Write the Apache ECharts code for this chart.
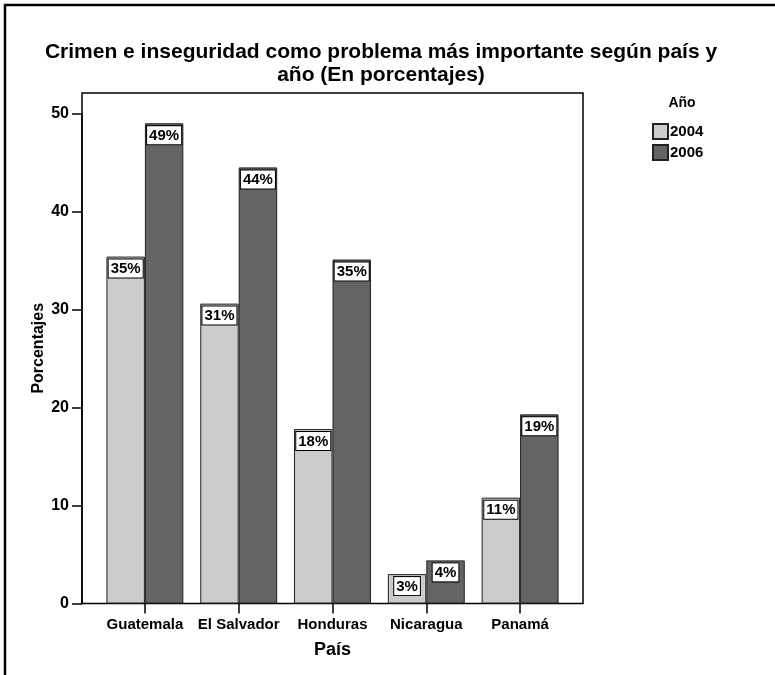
<!DOCTYPE html>
<html>
<head>
<meta charset="utf-8">
<script src="https://cdn.jsdelivr.net/npm/echarts@6/dist/echarts.min.js"></script>
<style>html,body{margin:0;padding:0;background:#fff;}#c{width:775px;height:675px;}</style>
</head>
<body>
<div id="c"></div>
<script>
var categories = ['Guatemala', 'El Salvador', 'Honduras', 'Nicaragua', 'Panamá'];
var years = ['2004', '2006'];
var values2004 = [35.4, 30.6, 17.8, 3.0, 10.8];
var values2006 = [49.0, 44.5, 35.1, 4.4, 19.3];
var labels2004 = ['35%', '31%', '18%', '3%', '11%'];
var labels2006 = ['49%', '44%', '35%', '4%', '19%'];
var yTicks = [0, 10, 20, 30, 40, 50];

var FONT = '"Liberation Sans", Arial, sans-serif';
var chart = echarts.init(document.getElementById('c'), null, {renderer: 'canvas'});

function labelCfg(arr) {
  return {
    show: true,
    position: 'insideTop',
    distance: 3,
    formatter: function (p) { return arr[p.dataIndex]; },
    color: '#000',
    fontFamily: FONT,
    fontWeight: 'bold',
    fontSize: 15,
    backgroundColor: '#fff',
    borderColor: '#000',
    borderWidth: 1,
    padding: [2, 2, 1, 2]
  };
}

var option = {
  animation: false,
  backgroundColor: '#fff',
  textStyle: {fontFamily: FONT},
  title: [{
    text: 'Crimen e inseguridad como problema más importante según país y\naño (En porcentajes)',
    left: 376, textAlign: 'center', top: 36,
    textStyle: {fontFamily: FONT, fontWeight: 'bold', fontSize: 21, lineHeight: 23, color: '#000'}
  }, {
    text: 'Año', left: 677, textAlign: 'center', top: 91,
    textStyle: {fontFamily: FONT, fontWeight: 'bold', fontSize: 14, color: '#000'}
  }],
  legend: {
    orient: 'vertical', left: 647, top: 118,
    itemWidth: 15, itemHeight: 15, itemGap: 4,
    icon: 'rect',
    textStyle: {fontFamily: FONT, fontWeight: 'bold', fontSize: 15, color: '#000', padding: [0,0,0,-3]},
    data: years
  },
  graphic: [{
    type: 'rect', shape: {x: 5, y: 5, width: 820, height: 720},
    style: {fill: 'none', stroke: '#000', lineWidth: 2.5}, silent: true
  }],
  grid: [
    {left: 98, right: 208, top: 113.5, bottom: 71.5, containLabel: false},
    {left: 82, right: 192, top: 93, bottom: 71.5, show: true, borderColor: '#000', borderWidth: 1.5, backgroundColor: 'transparent'}
  ],
  xAxis: [{
    gridIndex: 0, type: 'category', data: categories, boundaryGap: true,
    axisLine: {show: false},
    axisTick: {show: true, alignWithLabel: true, interval: 0, length: 10, lineStyle: {color: '#000', width: 1.5}},
    axisLabel: {interval: 0, margin: 14, color: '#000', fontFamily: FONT, fontWeight: 'bold', fontSize: 15},
    name: 'País', nameLocation: 'middle', nameGap: 38,
    nameTextStyle: {color: '#000', fontFamily: FONT, fontWeight: 'bold', fontSize: 18}
  }, {
    gridIndex: 1, type: 'value', show: false
  }],
  yAxis: [{
    gridIndex: 0, type: 'value', min: yTicks[0], max: yTicks[yTicks.length - 1], interval: 10,
    offset: 16,
    axisLine: {show: true, lineStyle: {color: '#000', width: 1.5}},
    axisTick: {show: true, length: 10, lineStyle: {color: '#000', width: 1.5}},
    splitLine: {show: false},
    axisLabel: {margin: 13, color: '#000', fontFamily: FONT, fontWeight: 'bold', fontSize: 16}
  }, {
    gridIndex: 1, type: 'value', min: 0, max: 1,
    axisLine: {show: false}, axisTick: {show: false}, axisLabel: {show: false}, splitLine: {show: false},
    name: 'Porcentajes', nameLocation: 'middle', nameGap: 35, nameRotate: 90,
    nameTextStyle: {color: '#000', fontFamily: FONT, fontWeight: 'bold', fontSize: 16}
  }],
  series: [{
    name: years[0], type: 'bar', xAxisIndex: 0, yAxisIndex: 0,
    data: values2004, barGap: '0%', barCategoryGap: '18%',
    itemStyle: {color: '#cccccc', borderColor: '#222', borderWidth: 1},
    label: labelCfg(labels2004)
  }, {
    name: years[1], type: 'bar', xAxisIndex: 0, yAxisIndex: 0,
    data: values2006, barGap: '0%', barCategoryGap: '18%',
    itemStyle: {color: '#646464', borderColor: '#222', borderWidth: 1},
    label: labelCfg(labels2006)
  }]
};
chart.setOption(option);
</script>
</body>
</html>
